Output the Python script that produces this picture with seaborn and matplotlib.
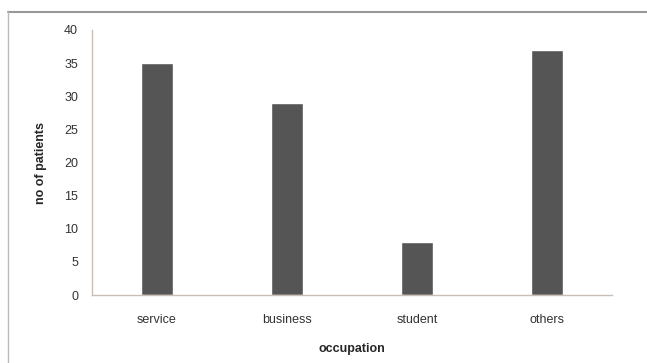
import matplotlib
matplotlib.use("Agg")
import matplotlib.pyplot as plt
import seaborn as sns
import pandas as pd
from matplotlib.lines import Line2D

# data
occupations = ["service", "business", "student", "others"]
patients = [35, 29, 8, 37]
y_ticks = [0, 5, 10, 15, 20, 25, 30, 35, 40]

df = pd.DataFrame({"occupation": occupations, "patients": patients})

sns.set_style("white")
plt.rcParams["font.family"] = ["Liberation Sans", "DejaVu Sans"]

W, H = 647, 363
fig = plt.figure(figsize=(W / 100, H / 100), dpi=100)
# plot area in pixels: x 92..612, y 30..295
ax = fig.add_axes([92 / W, 1 - 295 / H, (612 - 92) / W, (295 - 30) / H])

sns.barplot(data=df, x="occupation", y="patients", color="#555555",
            width=0.25, saturation=1, ax=ax)

ax.set_xlim(-0.5, len(occupations) - 0.5)
ax.set_ylim(0, 40)
ax.set_yticks(y_ticks)
ax.tick_params(axis="both", labelsize=9, colors="#333333", length=4, width=0.8)
ax.tick_params(axis="x", length=0, pad=14)
ax.tick_params(axis="y", color="#c8bfb8", pad=6)
for side in ["top", "right"]:
    ax.spines[side].set_visible(False)
for side in ["left", "bottom"]:
    ax.spines[side].set_color("#c8bfb8")
    ax.spines[side].set_linewidth(1)

ax.set_xlabel("occupation", fontsize=9, fontweight="bold", labelpad=12)
ax.set_ylabel("no of patients", fontsize=9, fontweight="bold", labelpad=12)

# chart border from the source screenshot (top and left edges)
fig.add_artist(Line2D([8 / W, 1], [1 - 12 / H, 1 - 12 / H], color="#999999", lw=1.5))
fig.add_artist(Line2D([8 / W, 8 / W], [0, 1 - 12 / H], color="#bbbbbb", lw=1))

fig.savefig("out.png", dpi=100)
